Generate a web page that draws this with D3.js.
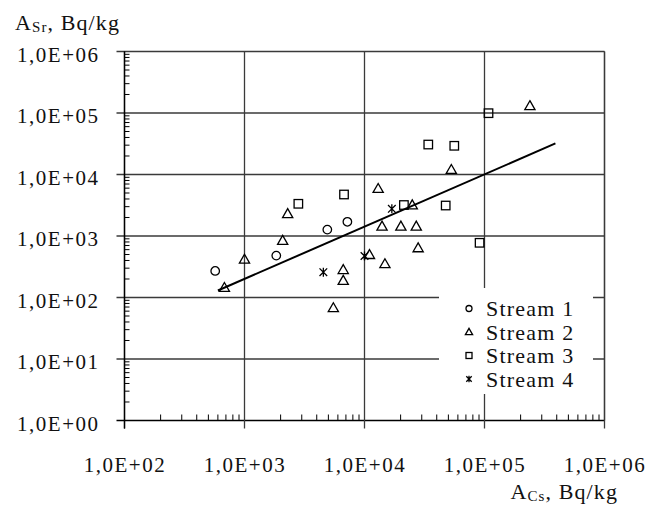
<!DOCTYPE html>
<html>
<head>
<meta charset="utf-8">
<script src="https://cdn.jsdelivr.net/npm/d3@7"></script>
<style>
  html, body { margin: 0; padding: 0; background: #fff; }
  svg { display: block; }
  text { font-family: "Liberation Serif", "Times New Roman", serif; fill: #111; }
</style>
</head>
<body>
<div id="chart"></div>
<script>
// ---------------- data ----------------
const xTickValues = [1e2, 1e3, 1e4, 1e5, 1e6];
const xTickLabels = ["1,0E+02", "1,0E+03", "1,0E+04", "1,0E+05", "1,0E+06"];
const yTickValues = [1e0, 1e1, 1e2, 1e3, 1e4, 1e5, 1e6];
const yTickLabels = ["1,0E+00", "1,0E+01", "1,0E+02", "1,0E+03", "1,0E+04", "1,0E+05", "1,0E+06"];

const seriesNames = ["Stream 1", "Stream 2", "Stream 3", "Stream 4"];
const seriesShapes = ["circle", "triangle", "square", "star"];

// Stream 1 (circles)
const s1X = [570, 1840, 4900, 7200];
const s1Y = [270, 480, 1270, 1700];
// Stream 2 (triangles)
const s2X = [680, 1000, 2080, 2290, 5500, 6650, 6650, 11000, 13000, 14000, 14800, 20100, 25000, 27000, 28000, 52900, 239000];
const s2Y = [145, 418, 845, 2300, 68, 283, 189, 497, 5900, 1440, 353, 1440, 3190, 1440, 640, 12000, 131000];
// Stream 3 (squares)
const s3X = [2810, 6750, 21300, 34000, 56000, 47500, 91000, 108000];
const s3Y = [3340, 4730, 3190, 30700, 29300, 3130, 775, 99300];
// Stream 4 (stars)
const s4X = [4540, 10000, 16900];
const s4Y = [258, 473, 2770];

// Trend line end points
const trendX = [600, 390000];
const trendY = [130, 32000];

// ---------------- chart ----------------
const W = 654, H = 505;
const svg = d3.select("#chart").append("svg").attr("width", W).attr("height", H);

const x = d3.scaleLog().domain([1e2, 1e6]).range([124.5, 604.5]);
const y = d3.scaleLog().domain([1e0, 1e6]).range([420.5, 51.5]);

const gridColor = "#3a3a3a";

// minor tick values
const minorX = [];
for (let d = 2; d < 6; d++) for (let m = 2; m <= 9; m++) minorX.push(m * Math.pow(10, d));
const minorY = [];
for (let d = 0; d < 6; d++) for (let m = 2; m <= 9; m++) minorY.push(m * Math.pow(10, d));

// horizontal gridlines (extend left as outward ticks)
svg.append("g").selectAll("line").data(yTickValues).join("line")
  .attr("x1", x.range()[0] - 8).attr("x2", x.range()[1])
  .attr("y1", d => y(d)).attr("y2", d => y(d))
  .attr("stroke", d => d === 1 ? "#000" : gridColor).attr("stroke-width", 1.3);

// vertical gridlines (extend down as outward ticks)
svg.append("g").selectAll("line").data(xTickValues).join("line")
  .attr("x1", d => x(d)).attr("x2", d => x(d))
  .attr("y1", y.range()[1]).attr("y2", y.range()[0] + 8)
  .attr("stroke", (d, i) => i === 0 ? "#000" : gridColor).attr("stroke-width", 1.3);

// minor ticks, inside
svg.append("g").selectAll("line").data(minorX).join("line")
  .attr("x1", d => x(d)).attr("x2", d => x(d))
  .attr("y1", y.range()[0]).attr("y2", y.range()[0] - 6)
  .attr("stroke", "#000").attr("stroke-width", 1);
svg.append("g").selectAll("line").data(minorY).join("line")
  .attr("x1", x.range()[0]).attr("x2", x.range()[0] + 5)
  .attr("y1", d => y(d)).attr("y2", d => y(d))
  .attr("stroke", "#000").attr("stroke-width", 1);

// axis tick labels via d3 axes (domain + ticks hidden)
const xAxis = d3.axisBottom(x).tickValues(xTickValues)
  .tickFormat((d, i) => xTickLabels[i]).tickSize(0).tickPadding(0);
const gx = svg.append("g").attr("transform", `translate(0,${y.range()[0]})`).call(xAxis);
gx.select(".domain").remove();
gx.selectAll("text").attr("dy", null).attr("y", 51)
  .style("font-family", '"Liberation Serif", serif').style("font-size", "21px")
  .style("letter-spacing", "1.5px").attr("fill", "#111");

const yAxis = d3.axisLeft(y).tickValues(yTickValues)
  .tickFormat((d, i) => yTickLabels[i]).tickSize(0).tickPadding(0);
const gy = svg.append("g").attr("transform", `translate(${x.range()[0]},0)`).call(yAxis);
gy.select(".domain").remove();
gy.selectAll("text").attr("dy", null).attr("x", -25).attr("y", 9.5)
  .style("font-family", '"Liberation Serif", serif').style("font-size", "21px")
  .style("letter-spacing", "1.5px").attr("fill", "#111");

// axis titles
const yTitle = svg.append("text").attr("x", 15).attr("y", 30)
  .style("font-size", "22px").style("letter-spacing", "1.1px");
yTitle.append("tspan").text("A");
yTitle.append("tspan").text("Sr").style("font-size", "15px").attr("dy", 2);
yTitle.append("tspan").text(", Bq/kg").attr("dy", -2);

const xTitle = svg.append("text").attr("x", 618).attr("y", 499)
  .attr("text-anchor", "end")
  .style("font-size", "22px").style("letter-spacing", "1.1px");
xTitle.append("tspan").text("A");
xTitle.append("tspan").text("Cs").style("font-size", "15px").attr("dy", 2);
xTitle.append("tspan").text(", Bq/kg").attr("dy", -2);

// trend line
svg.append("path")
  .datum(trendX.map((v, i) => [v, trendY[i]]))
  .attr("d", d3.line().x(d => x(d[0])).y(d => y(d[1])))
  .attr("fill", "none").attr("stroke", "#000").attr("stroke-width", 2);

// marker shapes
function drawMarker(g, shape, s) {
  const k = s / 8;
  if (shape === "circle") {
    g.append("circle").attr("r", 4 * k);
  } else if (shape === "triangle") {
    g.append("path").attr("d", `M0,${-4.8 * k}L${4.8 * k},${3.6 * k}L${-4.8 * k},${3.6 * k}Z`);
  } else if (shape === "square") {
    g.append("rect").attr("x", -4 * k).attr("y", -4 * k).attr("width", 8 * k).attr("height", 8 * k);
  } else if (shape === "star") {
    g.append("path").attr("d",
      `M${-3.6 * k},${-3.6 * k}L${3.6 * k},${3.6 * k}M${3.6 * k},${-3.6 * k}L${-3.6 * k},${3.6 * k}` +
      `M0,${-4.2 * k}L0,${4.2 * k}`);
  }
  g.selectAll("*").attr("fill", "none").attr("stroke", "#000").attr("stroke-width", 1.3);
}

const seriesX = [s1X, s2X, s3X, s4X];
const seriesY = [s1Y, s2Y, s3Y, s4Y];

seriesX.forEach((xs, si) => {
  const pts = xs.map((v, i) => [v, seriesY[si][i]]);
  svg.append("g").selectAll("g").data(pts).join("g")
    .attr("transform", d => `translate(${x(d[0])},${y(d[1])})`)
    .each(function () { drawMarker(d3.select(this), seriesShapes[si], 8.5); });
});

// legend
const lg = svg.append("g");
lg.append("rect").attr("x", 439).attr("y", 288).attr("width", 154).attr("height", 106).attr("fill", "#fff");
seriesNames.forEach((name, i) => {
  const cy = 308.5 + i * 23.5;
  const m = lg.append("g").attr("transform", `translate(469,${cy})`);
  drawMarker(m, seriesShapes[i], 6);
  lg.append("text").attr("x", 486).attr("y", cy + 7.5).text(name)
    .style("font-size", "22px").style("letter-spacing", "1.2px");
});

// plot frame (right)
svg.append("line").attr("x1", x.range()[1]).attr("x2", x.range()[1])
  .attr("y1", y.range()[1]).attr("y2", y.range()[0]).attr("stroke", gridColor).attr("stroke-width", 1.3);
// left axis line
svg.append("line").attr("x1", x.range()[0]).attr("x2", x.range()[0])
  .attr("y1", y.range()[1]).attr("y2", y.range()[0] + 8).attr("stroke", "#000").attr("stroke-width", 1.3);
</script>
</body>
</html>
